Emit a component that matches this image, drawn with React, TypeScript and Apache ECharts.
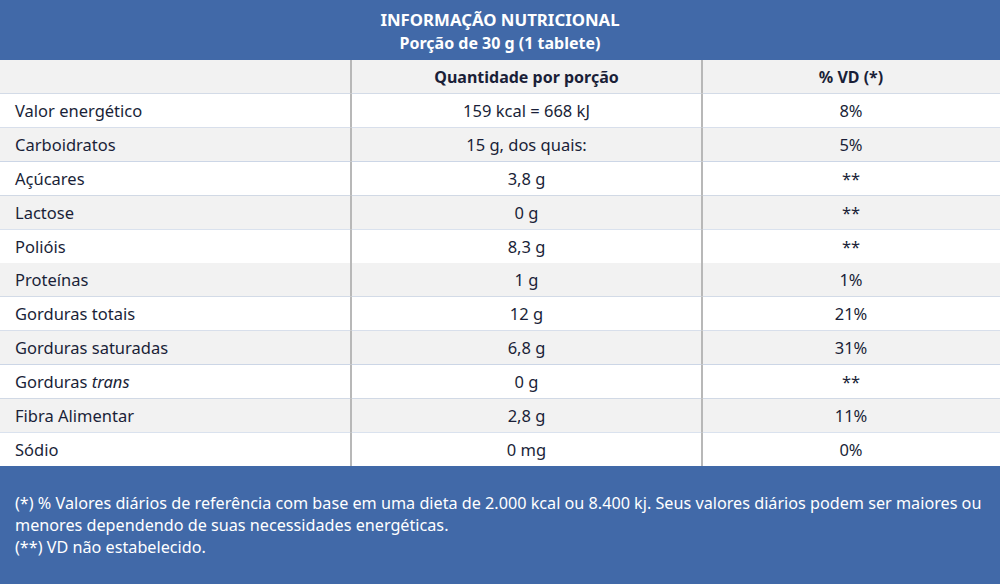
import React, { useEffect, useRef } from "react";
import * as echarts from "echarts";

const title = "INFORMAÇÃO NUTRICIONAL";
const subtitle = "Porção de 30 g (1 tablete)";
const columnHeaders = ["", "Quantidade por porção", "% VD (*)"];
const nutrients = [
  "Valor energético",
  "Carboidratos",
  "Açúcares",
  "Lactose",
  "Polióis",
  "Proteínas",
  "Gorduras totais",
  "Gorduras saturadas",
  "Gorduras trans",
  "Fibra Alimentar",
  "Sódio",
];
const amounts = [
  "159 kcal = 668 kJ",
  "15 g, dos quais:",
  "3,8 g",
  "0 g",
  "8,3 g",
  "1 g",
  "12 g",
  "6,8 g",
  "0 g",
  "2,8 g",
  "0 mg",
];
const dailyValues = ["8%", "5%", "**", "**", "**", "1%", "21%", "31%", "**", "11%", "0%"];
const italicTerms = ["trans"];
const footnotes = [
  "(*) % Valores diários de referência com base em uma dieta de 2.000 kcal ou 8.400 kj. Seus valores diários podem ser maiores ou",
  "menores dependendo de suas necessidades energéticas.",
  "(**) VD não estabelecido.",
];

const FONT = "'Noto Sans', 'Open Sans', sans-serif";
const BLUE = "#4169a8";
const GREY = "#f2f2f2";
const INK = "#1a1f38";
const RULE = "#b8b8b8";
const COL_EDGES = [0, 351, 702, 1000];
const BODY_SIZE = 16.5;

function italicize(s: string) {
  let out = s;
  italicTerms.forEach((t) => {
    out = out.replace(new RegExp("\\b" + t + "\\b"), "{it|" + t + "}");
  });
  return out;
}

export default function App() {
  const ref = useRef<HTMLDivElement>(null);
  useEffect(() => {
    document.body.style.margin = "0";
    const chart = echarts.init(ref.current!, null, { renderer: "svg" });
    const rowNames = ["__header__", ...nutrients];
    const data = rowNames.map((_, i) => [0, i]);

    const renderItem = (params: any, api: any) => {
      const i = api.value(1);
      const bandH = api.size([0, 1])[1];
      const cy = api.coord([0, i])[1];
      const top = cy - bandH / 2;
      const xs = COL_EDGES.map((e) => api.coord([e, i])[0]);
      const isHeader = i === 0;
      const bg = i % 2 === 0 ? GREY : "#ffffff";
      const cells = isHeader
        ? columnHeaders
        : [nutrients[i - 1], amounts[i - 1], dailyValues[i - 1]];
      const children: any[] = [
        {
          type: "rect",
          shape: { x: xs[0], y: top, width: xs[3] - xs[0], height: bandH },
          style: { fill: bg },
        },
      ];
      cells.forEach((c, k) => {
        const left = k === 0;
        children.push({
          type: "text",
          style: {
            text: left ? italicize(c) : c,
            x: left ? xs[0] + 15 : (xs[k] + xs[k + 1]) / 2,
            y: cy,
            align: left ? "left" : "center",
            verticalAlign: "middle",
            fill: INK,
            fontFamily: FONT,
            fontSize: isHeader ? 16 : BODY_SIZE,
            fontWeight: isHeader ? "bold" : "normal",
            rich: {
              it: { fontStyle: "italic", fontFamily: FONT, fontSize: BODY_SIZE, fill: INK },
            },
          },
        });
      });
      [1, 2].forEach((k) => {
        children.push({
          type: "line",
          shape: { x1: xs[k], y1: top, x2: xs[k], y2: top + bandH },
          style: { stroke: RULE, lineWidth: 2 },
        });
      });
      return { type: "group", children };
    };

    chart.setOption({
      animation: false,
      backgroundColor: BLUE,
      grid: { left: 0, right: 0, top: 60, bottom: 118 },
      xAxis: { type: "value", min: 0, max: 1000, show: false },
      yAxis: { type: "category", data: rowNames, inverse: true, show: false },
      series: [
        {
          type: "custom",
          renderItem,
          encode: { x: 0, y: 1 },
          data,
          clip: false,
        },
      ],
      graphic: [
        {
          type: "text",
          x: 500,
          y: 19,
          style: {
            text: title,
            align: "center",
            verticalAlign: "middle",
            fill: "#ffffff",
            fontFamily: FONT,
            fontSize: 16.8,
            fontWeight: "bold",
          },
        },
        {
          type: "text",
          x: 500,
          y: 43,
          style: {
            text: subtitle,
            align: "center",
            verticalAlign: "middle",
            fill: "#ffffff",
            fontFamily: FONT,
            fontSize: 16,
            fontWeight: "bold",
          },
        },
        ...footnotes.map((t, k) => ({
          type: "text",
          x: 15,
          y: 503 + k * 22,
          style: {
            text: t,
            align: "left",
            verticalAlign: "middle",
            fill: "#ffffff",
            fontFamily: FONT,
            fontSize: 16.2,
          },
        })),
      ],
    });
    return () => chart.dispose();
  }, []);
  return (
    <div
      ref={ref}
      style={{ position: "absolute", left: 0, top: 0, width: 1000, height: 584 }}
    />
  );
}
